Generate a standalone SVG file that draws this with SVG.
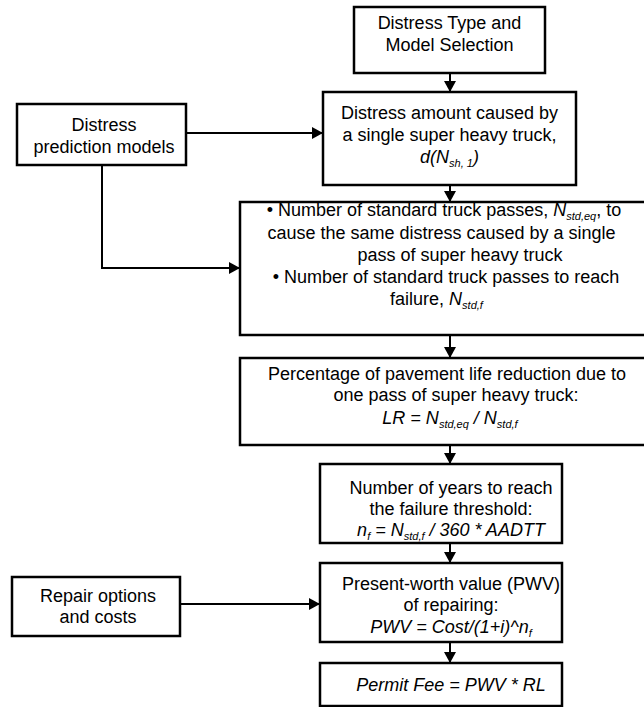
<svg xmlns="http://www.w3.org/2000/svg" width="644" height="707" viewBox="0 0 644 707">
<style>
.box{fill:#fff;stroke:#000;stroke-width:2.5}
.t{font-family:"Liberation Sans",Arial,sans-serif;font-size:18px;fill:#000;text-anchor:middle}
.i{font-style:italic}
.s{font-size:11px;font-style:italic}
.c{fill:none;stroke:#000;stroke-width:2}
</style>
<defs>
<marker id="ah" markerUnits="userSpaceOnUse" markerWidth="12" markerHeight="12" refX="11" refY="6" orient="auto">
<path d="M0,0 L11,6 L0,12 z" fill="#000"/>
</marker>
</defs>
<rect width="644" height="707" fill="#fff"/>
<g id="connectors">
<line class="c" x1="450" y1="73" x2="450" y2="92" marker-end="url(#ah)"/>
<line class="c" x1="450" y1="185" x2="450" y2="202" marker-end="url(#ah)"/>
<line class="c" x1="450" y1="335" x2="450" y2="358" marker-end="url(#ah)"/>
<line class="c" x1="450" y1="445" x2="450" y2="464" marker-end="url(#ah)"/>
<line class="c" x1="450" y1="543" x2="450" y2="563" marker-end="url(#ah)"/>
<line class="c" x1="450" y1="642" x2="450" y2="663" marker-end="url(#ah)"/>
<line class="c" x1="186" y1="133" x2="323" y2="133" marker-end="url(#ah)"/>
<polyline class="c" points="102,165 102,268 240,268" marker-end="url(#ah)"/>
<line class="c" x1="180" y1="604" x2="320" y2="604" marker-end="url(#ah)"/>
</g>
<g id="n1">
<rect class="box" x="354" y="7" width="191" height="66"/>
<text class="t" x="449.5" y="29">Distress Type and</text>
<text class="t" x="449.5" y="51">Model Selection</text>
</g>
<g id="n2">
<rect class="box" x="323" y="92" width="253" height="93"/>
<text class="t" x="449.5" y="119">Distress amount caused by</text>
<text class="t" x="449.5" y="141">a single super heavy truck,</text>
<text class="t i" x="449.5" y="163">d(N<tspan class="s" dy="4">sh, 1</tspan><tspan dy="-4">)</tspan></text>
</g>
<g id="pred">
<rect class="box" x="17" y="104" width="169" height="61"/>
<text class="t" x="104" y="131">Distress</text>
<text class="t" x="104" y="153">prediction models</text>
</g>
<g id="n3">
<rect class="box" x="240" y="202" width="420" height="133"/>
<text class="t" x="444" y="216">• Number of standard truck passes, <tspan class="i">N</tspan><tspan class="s" dy="4">std,eq</tspan><tspan dy="-4">, to</tspan></text>
<text class="t" x="441.5" y="239">cause the same distress caused by a single</text>
<text class="t" x="460" y="261">pass of super heavy truck</text>
<text class="t" x="446" y="283">• Number of standard truck passes to reach</text>
<text class="t" x="436.5" y="305">failure, <tspan class="i">N</tspan><tspan class="s" dy="4">std,f</tspan></text>
</g>
<g id="n4">
<rect class="box" x="240" y="358" width="420" height="87"/>
<text class="t" x="447" y="380">Percentage of pavement life reduction due to</text>
<text class="t" x="456" y="401">one pass of super heavy truck:</text>
<text class="t i" x="450" y="424">LR = N<tspan class="s" dy="4">std,eq</tspan><tspan dy="-4"> / N</tspan><tspan class="s" dy="4">std,f</tspan></text>
</g>
<g id="n5">
<rect class="box" x="320" y="464" width="242" height="79"/>
<text class="t" x="451" y="494">Number of years to reach</text>
<text class="t" x="451" y="515">the failure threshold:</text>
<text class="t i" x="451" y="536">n<tspan class="s" dy="4">f</tspan><tspan dy="-4"> = N</tspan><tspan class="s" dy="4">std,f</tspan><tspan dy="-4"> / 360 * AADTT</tspan></text>
</g>
<g id="n6">
<rect class="box" x="320" y="563" width="242" height="79"/>
<text class="t" x="451" y="590">Present-worth value (PWV)</text>
<text class="t" x="451" y="611">of repairing:</text>
<text class="t i" x="451" y="633">PWV = Cost/(1+i)^n<tspan class="s" dy="4">f</tspan></text>
</g>
<g id="n7">
<rect class="box" x="320" y="663" width="242" height="43"/>
<text class="t i" x="451" y="691">Permit Fee = PWV * RL</text>
</g>
<g id="repair">
<rect class="box" x="12" y="577" width="168" height="59"/>
<text class="t" x="98" y="602">Repair options</text>
<text class="t" x="98" y="623">and costs</text>
</g>
</svg>
